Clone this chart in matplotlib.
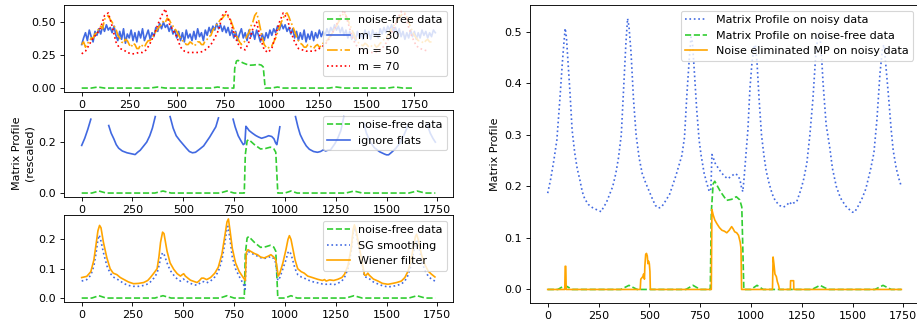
import matplotlib
matplotlib.use("Agg")
import matplotlib.pyplot as plt
import numpy as np

# noise-free matrix profile (same curve drawn in every panel)
noise_free_x = [0, 50, 85, 120, 360, 400, 440, 680, 715, 750, 800, 805, 814, 822, 850, 880,
                905, 928, 945, 955, 960, 965, 1000, 1030, 1060, 1300, 1340, 1380, 1610,
                1650, 1690, 1740]
noise_free_y = [0, 0, 0.008, 0, 0, 0.008, 0, 0, 0.008, 0, 0, 0.15, 0.205, 0.21, 0.19, 0.173,
                0.175, 0.18, 0.174, 0.16, 0.08, 0, 0, 0.008, 0, 0, 0.008, 0, 0,
                0.008, 0, 0]

# panel 1: profiles for three window lengths
step_fine = 10
mp_m30 = [0.33, 0.38, 0.42, 0.36, 0.44, 0.39, 0.35, 0.43, 0.40, 0.45,
          0.41, 0.47, 0.43, 0.48, 0.44, 0.46, 0.42, 0.47, 0.40, 0.36,
          0.43, 0.37, 0.45, 0.34, 0.41, 0.38, 0.44, 0.36, 0.42, 0.35,
          0.43, 0.38, 0.45, 0.36, 0.40, 0.44, 0.37, 0.42, 0.39, 0.46,
          0.43, 0.49, 0.45, 0.50, 0.46, 0.48, 0.43, 0.47, 0.41, 0.44,
          0.38, 0.43, 0.36, 0.42, 0.35, 0.44, 0.38, 0.41, 0.36, 0.43,
          0.37, 0.45, 0.39, 0.42, 0.36, 0.44, 0.40, 0.46, 0.42, 0.47,
          0.44, 0.49, 0.45, 0.48, 0.43, 0.47, 0.42, 0.46, 0.40, 0.44,
          0.38, 0.43, 0.36, 0.41, 0.45, 0.38, 0.42, 0.36, 0.44, 0.39,
          0.43, 0.37, 0.44, 0.40, 0.35, 0.41, 0.36, 0.42, 0.38, 0.44,
          0.40, 0.45, 0.42, 0.47, 0.44, 0.49, 0.45, 0.48, 0.43, 0.46,
          0.41, 0.45, 0.38, 0.43, 0.36, 0.42, 0.37, 0.44, 0.35, 0.41,
          0.37, 0.43, 0.36, 0.42, 0.38, 0.44, 0.39, 0.43, 0.40, 0.45,
          0.41, 0.46, 0.43, 0.48, 0.44, 0.47, 0.42, 0.46, 0.40, 0.44,
          0.38, 0.43, 0.37, 0.42, 0.36, 0.43, 0.38, 0.41, 0.37, 0.44,
          0.39, 0.43, 0.37, 0.44, 0.40, 0.42, 0.38, 0.45, 0.41, 0.46,
          0.42, 0.47, 0.44, 0.48, 0.43, 0.46, 0.41, 0.45, 0.39, 0.43,
          0.37, 0.42, 0.38, 0.44, 0.39, 0.43, 0.37, 0.42, 0.38, 0.44,
          0.40, 0.43, 0.38, 0.42, 0.39, 0.44, 0.42]
mp_m50 = [0.33, 0.35, 0.31, 0.34, 0.35, 0.38, 0.38, 0.41, 0.42, 0.45,
          0.47, 0.45, 0.52, 0.54, 0.55, 0.52, 0.50, 0.47, 0.45, 0.40,
          0.38, 0.35, 0.34, 0.37, 0.36, 0.33, 0.31, 0.34, 0.33, 0.30,
          0.30, 0.33, 0.32, 0.31, 0.34, 0.36, 0.36, 0.38, 0.40, 0.43,
          0.45, 0.47, 0.48, 0.51, 0.50, 0.53, 0.52, 0.49, 0.47, 0.45,
          0.43, 0.40, 0.38, 0.36, 0.35, 0.33, 0.33, 0.35, 0.34, 0.32,
          0.33, 0.35, 0.35, 0.33, 0.33, 0.36, 0.37, 0.39, 0.40, 0.44,
          0.46, 0.48, 0.50, 0.52, 0.53, 0.55, 0.56, 0.54, 0.53, 0.49,
          0.45, 0.41, 0.38, 0.35, 0.33, 0.34, 0.36, 0.40, 0.42, 0.47,
          0.50, 0.55, 0.57, 0.52, 0.45, 0.38, 0.33, 0.31, 0.30, 0.32,
          0.32, 0.35, 0.38, 0.42, 0.46, 0.50, 0.53, 0.56, 0.57, 0.54,
          0.50, 0.47, 0.43, 0.39, 0.36, 0.34, 0.33, 0.31, 0.31, 0.33,
          0.32, 0.31, 0.30, 0.32, 0.33, 0.31, 0.32, 0.34, 0.35, 0.36,
          0.38, 0.40, 0.42, 0.45, 0.47, 0.50, 0.52, 0.55, 0.57, 0.55,
          0.52, 0.48, 0.45, 0.41, 0.38, 0.35, 0.34, 0.33, 0.32, 0.34,
          0.33, 0.31, 0.31, 0.33, 0.33, 0.31, 0.32, 0.34, 0.35, 0.37,
          0.38, 0.40, 0.42, 0.45, 0.47, 0.49, 0.51, 0.53, 0.55, 0.57,
          0.57, 0.54, 0.50, 0.46, 0.43, 0.40, 0.38, 0.36, 0.36, 0.35,
          0.34, 0.36, 0.37, 0.35, 0.35]
step_m70 = 20
mp_m70 = [0.26, 0.28, 0.33, 0.38, 0.41, 0.46, 0.55, 0.57, 0.47, 0.35, 0.30, 0.29, 0.27, 0.26,
          0.26, 0.27, 0.27, 0.29, 0.34, 0.40, 0.48, 0.55, 0.60, 0.49, 0.44, 0.39, 0.31, 0.28,
          0.27, 0.27, 0.27, 0.27, 0.28, 0.30, 0.33, 0.38, 0.44, 0.55, 0.58, 0.52, 0.42, 0.34,
          0.30, 0.29, 0.35, 0.45, 0.50, 0.38, 0.29, 0.27, 0.30, 0.40, 0.50, 0.57, 0.53, 0.43,
          0.35, 0.30, 0.29, 0.28, 0.28, 0.28, 0.29, 0.31, 0.33, 0.37, 0.42, 0.48, 0.55, 0.59,
          0.50, 0.40, 0.33, 0.30, 0.28, 0.27, 0.27, 0.27, 0.28, 0.30, 0.34, 0.39, 0.45, 0.52,
          0.58, 0.56, 0.46, 0.38, 0.32, 0.30, 0.29, 0.28]

# matrix profile on noisy data (right panel, and panel 2 with flats ignored)
noisy_x = [0, 15, 30, 45, 60, 72, 80, 86, 92, 100, 110, 120, 133, 145, 158, 170, 182, 200,
           223, 240, 263, 275, 288, 305, 320, 335, 348, 362, 375, 385, 393, 400, 410, 422,
           435, 450, 465, 483, 500, 515, 530, 545, 560, 580, 600, 613, 630, 645, 660, 673,
           685, 697, 705, 712, 722, 733, 745, 755, 770, 783, 795, 803, 808, 815, 824, 840,
           856, 870, 885, 905, 920, 935, 946, 954, 960, 966, 975, 985, 995, 1005, 1015, 1022,
           1030, 1040, 1052, 1064, 1075, 1090, 1105, 1120, 1141, 1160, 1175, 1190, 1200, 1210,
           1225, 1246, 1260, 1275, 1290, 1305, 1318, 1330, 1338, 1345, 1355, 1370, 1388, 1401,
           1420, 1440, 1466, 1490, 1500, 1510, 1525, 1545, 1565, 1588, 1605, 1620, 1635, 1648,
           1655, 1665, 1678, 1690, 1700, 1715, 1728, 1740]
noisy_y = [0.187, 0.215, 0.25, 0.29, 0.37, 0.44, 0.48, 0.507, 0.49, 0.44, 0.38, 0.31, 0.265,
           0.235, 0.213, 0.19, 0.176, 0.165, 0.158, 0.155, 0.151, 0.16, 0.168, 0.185, 0.2,
           0.225, 0.255, 0.30, 0.40, 0.48, 0.526, 0.51, 0.46, 0.37, 0.30, 0.255, 0.225, 0.206,
           0.19, 0.176, 0.163, 0.158, 0.16, 0.172, 0.185, 0.2, 0.22, 0.24, 0.26, 0.295, 0.38,
           0.45, 0.49, 0.48, 0.42, 0.35, 0.29, 0.26, 0.225, 0.206, 0.19, 0.195, 0.262, 0.255,
           0.245, 0.235, 0.226, 0.22, 0.215, 0.22, 0.225, 0.222, 0.213, 0.197, 0.19, 0.215,
           0.26, 0.31, 0.39, 0.44, 0.47, 0.475, 0.44, 0.37, 0.30, 0.26, 0.23, 0.205, 0.185,
           0.172, 0.163, 0.16, 0.163, 0.17, 0.165, 0.168, 0.17, 0.194, 0.215, 0.245, 0.30, 0.37,
           0.45, 0.495, 0.50, 0.47, 0.40, 0.32, 0.275, 0.235, 0.2, 0.178, 0.162, 0.153, 0.15,
           0.15, 0.16, 0.175, 0.195, 0.232, 0.265, 0.33, 0.42, 0.47, 0.475, 0.43, 0.37, 0.31,
           0.27, 0.235, 0.215, 0.2]

# panel 3: Savitzky-Golay smoothing and Wiener filter
sg_x = [0, 25, 45, 60, 70, 80, 86, 93, 107, 124, 140, 155, 173, 190, 206, 230, 255, 280, 305,
        325, 338, 355, 371, 380, 390, 398, 405, 420, 435, 453, 470, 486, 500, 510, 535, 555,
        568, 590, 600, 615, 634, 655, 672, 690, 705, 715, 720, 730, 741, 757, 774, 790, 800,
        804, 810, 818, 830, 850, 865, 880, 898, 915, 931, 945, 955, 960, 965, 975, 990, 1005,
        1015, 1022, 1030, 1040, 1050, 1063, 1080, 1095, 1112, 1135, 1161, 1185, 1203, 1220,
        1240, 1260, 1280, 1293, 1310, 1326, 1336, 1342, 1350, 1367, 1380, 1392, 1408, 1435,
        1458, 1480, 1507, 1530, 1550, 1573, 1590, 1606, 1620, 1631, 1642, 1648, 1658, 1672,
        1688, 1705, 1720, 1738]
sg_y = [0.058, 0.063, 0.078, 0.11, 0.15, 0.2, 0.215, 0.2, 0.155, 0.11, 0.085, 0.072, 0.065,
        0.058, 0.05, 0.043, 0.04, 0.04, 0.043, 0.048, 0.055, 0.068, 0.085, 0.11, 0.14, 0.155,
        0.15, 0.12, 0.095, 0.078, 0.065, 0.058, 0.065, 0.06, 0.05, 0.045, 0.044, 0.055, 0.056,
        0.052, 0.058, 0.072, 0.09, 0.13, 0.19, 0.24, 0.245, 0.2, 0.14, 0.1, 0.075, 0.055, 0.04,
        0.03, 0.145, 0.16, 0.155, 0.148, 0.143, 0.138, 0.135, 0.138, 0.142, 0.135, 0.12, 0.09,
        0.06, 0.07, 0.1, 0.13, 0.155, 0.16, 0.15, 0.125, 0.1, 0.08, 0.072, 0.068, 0.062, 0.056,
        0.052, 0.048, 0.047, 0.048, 0.045, 0.05, 0.058, 0.07, 0.1, 0.16, 0.22, 0.24, 0.22,
        0.16, 0.11, 0.072, 0.07, 0.055, 0.048, 0.042, 0.038, 0.04, 0.043, 0.048, 0.058, 0.078,
        0.11, 0.15, 0.19, 0.2, 0.18, 0.13, 0.095, 0.075, 0.065, 0.058]
wiener_x = [0, 25, 45, 60, 70, 80, 88, 95, 107, 124, 140, 155, 173, 190, 206, 230, 255, 280,
            305, 325, 338, 355, 371, 380, 388, 398, 405, 420, 435, 453, 470, 486, 495, 502, 510,
            535, 555, 568, 580, 590, 600, 615, 634, 655, 672, 690, 705, 715, 722, 730, 741, 757,
            774, 790, 800, 805, 810, 818, 830, 850, 865, 880, 898, 915, 931, 945, 955, 962, 967,
            975, 990, 1005, 1015, 1022, 1030, 1040, 1050, 1063, 1080, 1095, 1112, 1135, 1161,
            1185, 1195, 1203, 1220, 1240, 1260, 1280, 1293, 1310, 1326, 1336, 1342, 1350, 1367,
            1380, 1392, 1400, 1408, 1415, 1435, 1458, 1480, 1507, 1530, 1550, 1573, 1590, 1606,
            1620, 1631, 1642, 1648, 1658, 1672, 1688, 1705, 1720, 1738]
wiener_y = [0.07, 0.074, 0.09, 0.13, 0.18, 0.23, 0.248, 0.24, 0.19, 0.137, 0.10, 0.085, 0.08,
            0.07, 0.064, 0.055, 0.049, 0.05, 0.053, 0.06, 0.07, 0.085, 0.10, 0.14, 0.19, 0.225,
            0.22, 0.16, 0.12, 0.098, 0.083, 0.075, 0.08, 0.083, 0.075, 0.061, 0.056, 0.053, 0.06,
            0.068, 0.068, 0.063, 0.07, 0.085, 0.105, 0.15, 0.215, 0.26, 0.27, 0.23, 0.17, 0.12,
            0.092, 0.075, 0.065, 0.06, 0.155, 0.165, 0.16, 0.152, 0.148, 0.14, 0.137, 0.142,
            0.148, 0.14, 0.13, 0.1, 0.075, 0.085, 0.12, 0.165, 0.2, 0.213, 0.2, 0.165, 0.13, 0.10,
            0.09, 0.085, 0.075, 0.07, 0.064, 0.06, 0.063, 0.058, 0.062, 0.06, 0.064, 0.07, 0.081,
            0.11, 0.17, 0.235, 0.25, 0.23, 0.17, 0.12, 0.078, 0.078, 0.085, 0.078, 0.065, 0.058,
            0.05, 0.047, 0.05, 0.053, 0.058, 0.07, 0.092, 0.125, 0.17, 0.21, 0.218, 0.195, 0.148,
            0.115, 0.092, 0.082, 0.072]

# right panel: noise eliminated matrix profile
clean_x = [0, 84, 86, 89, 91, 455, 458, 468, 472, 476, 478, 482, 486, 490, 493, 496, 500, 503,
           505, 805, 808, 814, 822, 832, 845, 857, 870, 881, 893, 905, 912, 920, 930, 939, 947,
           951, 954, 1106, 1109, 1113, 1118, 1125, 1130, 1136, 1140, 1194, 1195, 1210, 1211, 1740]
clean_y = [0, 0, 0.045, 0.045, 0, 0, 0.02, 0.025, 0.03, 0.02, 0.045, 0.068, 0.07, 0.065, 0.05,
           0.055, 0.05, 0.035, 0, 0, 0.155, 0.145, 0.135, 0.128, 0.12, 0.115, 0.113, 0.11, 0.115,
           0.122, 0.118, 0.112, 0.11, 0.105, 0.092, 0.08, 0, 0, 0.063, 0.05, 0.03, 0.025, 0.015,
           0.008, 0, 0, 0.017, 0.017, 0, 0]

plt.rcParams['font.size'] = 10
fig = plt.figure(figsize=(917 / 80, 324 / 80), dpi=80)

green = 'limegreen'
blue = 'royalblue'
xticks = np.arange(0, 1751, 250)

# --- panel 1: window lengths ---
ax1 = fig.add_axes([0.0698, 0.716, 0.4242, 0.2685])
ax1.plot(noise_free_x, noise_free_y, '--', color=green, label='noise-free data')
ax1.plot(np.arange(len(mp_m30)) * step_fine, mp_m30, '-', color=blue, label='m = 30')
ax1.plot(np.arange(len(mp_m50)) * step_fine, mp_m50, '-.', color='orange', label='m = 50')
ax1.plot(np.arange(len(mp_m70)) * step_m70, mp_m70, ':', color='red', label='m = 70')
ax1.set_xticks(xticks)
ax1.set_yticks([0, 0.25, 0.5])
ax1.yaxis.set_major_formatter('{x:.2f}')
ax1.legend(loc='upper right')

# --- panel 2: ignore flats ---
flats = np.array(noisy_y, dtype=float)
flats[flats > 0.3] = np.nan
ax2 = fig.add_axes([0.0698, 0.392, 0.4242, 0.2685])
ax2.plot(noise_free_x, noise_free_y, '--', color=green, label='noise-free data')
ax2.plot(noisy_x, flats, '-', color=blue, label='ignore flats')
ax2.set_xticks(xticks)
ax2.set_yticks([0, 0.2])
ax2.set_ylim(-0.0155, 0.326)
ax2.set_ylabel('Matrix Profile\n(rescaled)')
ax2.legend(loc='upper right')

# --- panel 3: smoothing ---
ax3 = fig.add_axes([0.0698, 0.0679, 0.4242, 0.2685])
ax3.plot(noise_free_x, noise_free_y, '--', color=green, label='noise-free data')
ax3.plot(sg_x, sg_y, ':', color=blue, label='SG smoothing')
ax3.plot(wiener_x, wiener_y, '-', color='orange', label='Wiener filter')
ax3.set_xticks(xticks)
ax3.set_yticks([0, 0.1, 0.2])
ax3.legend(loc='upper right')

# --- right panel ---
ax4 = fig.add_axes([0.578, 0.0648, 0.4242, 0.9198])
ax4.plot(noisy_x, noisy_y, ':', color=blue, label='Matrix Profile on noisy data')
ax4.plot(noise_free_x, noise_free_y, '--', color=green, label='Matrix Profile on noise-free data')
ax4.plot(clean_x, clean_y, '-', color='orange', label='Noise eliminated MP on noisy data')
ax4.set_xticks(xticks)
ax4.set_ylabel('Matrix Profile')
ax4.legend(loc='upper right')

fig.savefig('out.png', dpi=80)
